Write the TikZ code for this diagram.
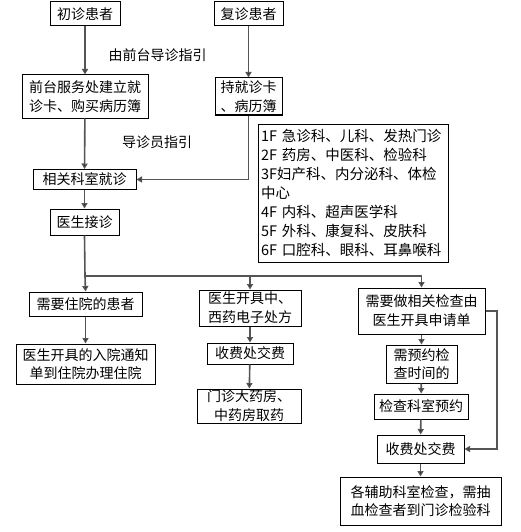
\documentclass[tikz,border=0pt]{standalone}
\usepackage{fontspec}
\setmainfont{Noto Sans CJK SC}
\usetikzlibrary{arrows.meta}
\begin{document}
\begin{tikzpicture}[x=1pt,y=-1pt,
  box/.style={draw=black,line width=1pt,inner sep=0pt,align=center,
    font=\fontsize{14}{18.7}\selectfont},
  conn/.style={draw={rgb,255:red,85;green,85;blue,85},line width=1.6pt,
    -{Triangle[length=5.5pt,width=6pt,fill=black]}},
  plain/.style={draw={rgb,255:red,85;green,85;blue,85},line width=1.6pt},
  lbl/.style={font=\fontsize{14}{16}\selectfont,inner sep=0pt}]
\fill[white] (0,0) rectangle (520,532);
\useasboundingbox (0,0) rectangle (520,532);

\node[box,minimum width=70pt,minimum height=24pt] (chu) at (85,14) {初诊患者};
\node[box,minimum width=69pt,minimum height=24pt] (fu) at (248.5,14) {复诊患者};
\node[box,minimum width=126pt,minimum height=43pt] (qt) at (85,96.5) {前台服务处建立就\\诊卡、购买病历簿};
\node[box,minimum width=67pt,minimum height=37pt] (chi) at (248.5,96.5) {持就诊卡\\、病历簿};
\node[box,minimum width=103pt,minimum height=20pt] (xg) at (84.5,179.5) {相关科室就诊};
\node[box,minimum width=69pt,minimum height=26pt] (ys) at (84.5,222) {医生接诊};

\node[draw=black,line width=1pt,minimum width=190pt,minimum height=138pt,
  text width=184pt,inner xsep=3pt,inner ysep=0pt,align=left,
  font=\fontsize{14.5}{19}\selectfont] (fl) at (353,193)
  {1F 急诊科、儿科、发热门诊\\2F 药房、中医科、检验科\\3F妇产科、内分泌科、体检\\中心\\4F 内科、超声医学科\\5F 外科、康复科、皮肤科\\6F 口腔科、眼科、耳鼻喉科};

\node[box,minimum width=113pt,minimum height=24pt] (zy) at (85.5,304) {需要住院的患者};
\node[box,minimum width=139pt,minimum height=40pt] (ry) at (85.5,364) {医生开具的入院通知\\单到住院办理住院};
\node[box,minimum width=102pt,minimum height=36pt] (cf) at (250,308) {医生开具中、\\西药电子处方};
\node[box,minimum width=86pt,minimum height=21pt] (sfa) at (250,353.5) {收费处交费};
\node[box,minimum width=104pt,minimum height=34pt] (yf) at (249,406) {门诊大药房、\\中药房取药};
\node[box,minimum width=127pt,minimum height=46pt] (jc) at (421.5,311) {需要做相关检查由\\医生开具申请单};
\node[box,minimum width=71pt,minimum height=38pt] (yy) at (421.5,364) {需预约检\\查时间的};
\node[box,minimum width=94pt,minimum height=25pt] (ks) at (421,406.5) {检查科室预约};
\node[box,minimum width=87pt,minimum height=28pt] (sfb) at (420.5,449) {收费处交费};
\node[box,minimum width=161pt,minimum height=48pt] (fz) at (420.5,501) {各辅助科室检查，需抽\\血检查者到门诊检验科};

\node[lbl] (l1) at (157.5,55) {由前台导诊指引};
\node[lbl] (l2) at (157,142) {导诊员指引};

\coordinate (c1) at (248.5,179.5);
\coordinate (br) at (85,276);
\coordinate (bm) at (250,276);
\coordinate (bj) at (421.5,276);
\coordinate (r1) at (497,311);
\coordinate (r2) at (497,449);

\draw[conn] (chu) -- (qt);
\draw[conn] (fu) -- (chi);
\draw[conn] (qt) -- (xg);
\draw[conn] (chi.south) -- (c1) -- (xg.east);
\draw[conn] (xg) -- (ys);
\draw[conn] (ys.south) -- (br) -- (zy.north);
\draw[plain] (br) -- (bj);
\draw[conn] (bm) -- (cf.north);
\draw[conn] (bj) -- (jc.north);
\draw[conn] (zy) -- (ry);
\draw[conn] (cf) -- (sfa);
\draw[conn] (sfa) -- (yf);
\draw[conn] (jc) -- (yy);
\draw[conn] (yy) -- (ks);
\draw[conn] (ks) -- (sfb);
\draw[conn] (sfb) -- (fz);
\draw[conn] (jc.east) -- (r1) -- (r2) -- (sfb.east);
\end{tikzpicture}
\end{document}
